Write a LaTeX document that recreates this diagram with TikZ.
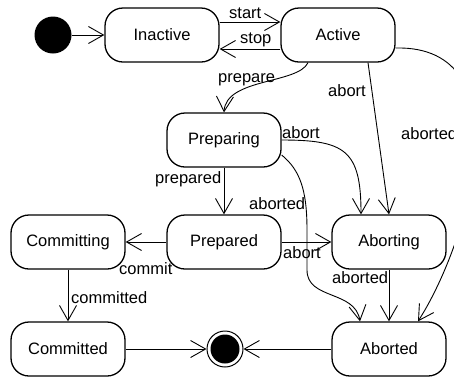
\documentclass[tikz,border=0pt]{standalone}
\usepackage{fontspec}
\setmainfont{Liberation Sans}
\usetikzlibrary{arrows.meta,calc}
\begin{document}
\begin{tikzpicture}[x=1pt,y=-1pt,
  state/.style={draw, rounded corners=18pt, minimum width=114pt, minimum height=54pt, line width=1.3pt, inner sep=0pt, font=\fontsize{16.5}{20}\selectfont},
  lbl/.style={inner sep=0pt, anchor=base west, font=\fontsize{16.5}{20}\selectfont},
  tr/.style={line width=0.9pt, -{Straight Barb[length=15pt,width=17pt,line width=0.9pt]}}]
\useasboundingbox (0,0) rectangle (454,376);
% states
\node[circle, fill, minimum size=37pt, inner sep=0pt] (init) at (53,35) {};
\node[state] (Inactive) at (162,35) {Inactive};
\node[state] (Active) at (338,35) {Active};
\node[state] (Preparing) at (224,140) {Preparing};
\node[state] (Prepared) at (224,242) {Prepared};
\node[state] (Committing) at (68,242) {Committing};
\node[state] (Aborting) at (389,242) {Aborting};
\node[state] (Committed) at (68,349) {Committed};
\node[state] (Aborted) at (389,349) {Aborted};
\node[circle, draw, line width=1pt, minimum size=36pt, inner sep=0pt] (final) at (225,349) {};
\node[circle, fill, minimum size=29pt, inner sep=0pt] (finaldot) at (final) {};
% transitions
\draw[tr] (init) -- (Inactive);
\draw[tr] (Inactive.east |- 0,22) -- (Active.west |- 0,22);
\draw[tr] (Active.west |- 0,49) -- (Inactive.east |- 0,49);
\draw[tr] (Active.south -| 308,0) .. controls (298,84) and (226,78) .. (Preparing.north);
\draw[tr] (Active.south -| 368,0) -- (Aborting.north);
\draw[tr] ($(Active.east)+(0,13)$) .. controls (525,45) and (470,240) .. (Aborted.north -| 418,0);
\draw[tr] (Preparing.east) .. controls (345,140) and (361,150) .. (Aborting.north -| 361,0);
\draw[tr] (Preparing.south) -- (Prepared.north);
\draw[tr] ($(Preparing.east)+(0,15)$) .. controls (300,170) and (307,190) .. (307,230) -- (307,270) .. controls (307,300) and (355,290) .. (Aborted.north -| 360,0);
\draw[tr] (Prepared.west) -- (Committing.east);
\draw[tr] (Prepared.east) -- (Aborting.west);
\draw[tr] (Committing.south) -- (Committed.north);
\draw[tr] (Aborting.south) -- (Aborted.north);
\draw[tr] (Committed.east) -- (final);
\draw[tr] (Aborted.west) -- (final);
% labels
\node[lbl] (lstart) at (229,18) {start};
\node[lbl] (lstop) at (240,43) {stop};
\node[lbl] (lprepare) at (218,82) {prepare};
\node[lbl] (labort1) at (328,96) {abort};
\node[lbl] (laborted1) at (401,139) {aborted};
\node[lbl] (labort2) at (282,138) {abort};
\node[lbl] (lprepared) at (155,183) {prepared};
\node[lbl] (laborted2) at (249,209) {aborted};
\node[lbl] (lcommit) at (119,274) {commit};
\node[lbl] (labort3) at (283,258) {abort};
\node[lbl] (laborted3) at (332,283) {aborted};
\node[lbl] (lcommitted) at (71,303) {committed};
\end{tikzpicture}
\end{document}
